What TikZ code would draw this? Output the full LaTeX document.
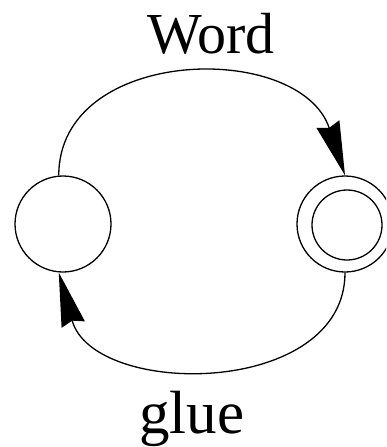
\documentclass[tikz,border=0pt]{standalone}
\usepackage{fontspec}
\setmainfont{Liberation Serif}
\usetikzlibrary{arrows.meta}
\begin{document}
\begin{tikzpicture}[x=1pt,y=-1pt, line width=1.3pt,
  state/.style={circle,draw,minimum size=96pt,inner sep=0pt},
  inner/.style={circle,draw,minimum size=70pt,inner sep=0pt},
  lbl/.style={anchor=base},
  tip/.style={-{Stealth[length=54pt,width=24pt,inset=4pt]}}]
\useasboundingbox (0,0) rectangle (386,447);
\clip (0,0) rectangle (386,447);
\node[state] (L) at (63,224) {};
\node[state] (R) at (345,224) {};
\node[inner] (Ri) at (347,225) {};
\node[lbl,font=\fontsize{58}{60}\selectfont] (w) at (211,53) {Word};
\node[lbl,font=\fontsize{61}{63}\selectfont] (g) at (192,433) {glue};
\draw[tip] (L.95) .. controls +(0,-130) and +(-45,-135) .. (R.north);
\draw[tip] (R.south) .. controls +(0,125) and +(35,126) .. (L.265);
\end{tikzpicture}
\end{document}
